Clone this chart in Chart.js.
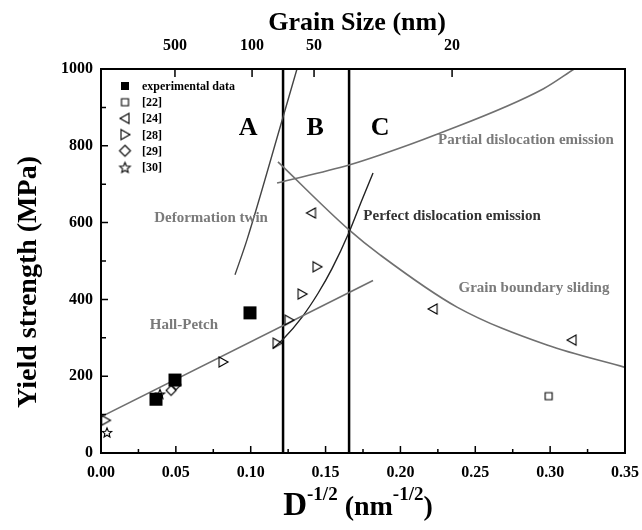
<!DOCTYPE html>
<html>
<head>
<meta charset="utf-8">
<script src="https://cdn.jsdelivr.net/npm/chart.js@4.4.1/dist/chart.umd.min.js"></script>
<style>
  html, body { margin: 0; padding: 0; background: #fff; }
  #wrap { width: 642px; height: 530px; }
</style>
</head>
<body>
<div id="wrap"><canvas id="myChart"></canvas></div>
<script>
// ---- data: x = D^-1/2 (nm^-1/2), y = yield strength (MPa)
let expX = [0.0367, 0.0494, 0.0995];
let expY = [140, 190, 365];
let ref22X = [0.299];
let ref22Y = [148];
let ref24X = [0.1406, 0.2218, 0.3146];
let ref24Y = [625, 375, 294];
let ref28X = [0.003, 0.0815, 0.1176, 0.1256, 0.1343, 0.1443];
let ref28Y = [85, 237, 286, 346, 414, 485];
let ref29X = [0.0468, 0.0501];
let ref29Y = [163, 178];
let ref30X = [0.004, 0.0394];
let ref30Y = [55, 155];

let hallPetchX = [0, 0.1817];
let hallPetchY = [94, 449];
let twinX = [0.0895, 0.0975, 0.1216, 0.1309];
let twinY = [464, 555, 875, 1000];
let perfectX = [0.1149, 0.1216, 0.1343, 0.145, 0.1543, 0.1657, 0.1743, 0.1817];
let perfectY = [272, 296, 354, 416, 480, 575, 659, 729];
let partialX = [0.1176, 0.1657, 0.1864, 0.2231, 0.2953, 0.316];
let partialY = [703, 750, 776, 828, 948, 1000];
let gbsX = [0.1182, 0.1657, 0.1864, 0.2378, 0.2979, 0.350];
let gbsY = [758, 581, 516, 380, 281, 223];

let boundaryX = [0.1216, 0.1657];

// top axis: grain size ticks
let topTickPos = [0.0494, 0.1009, 0.1423, 0.2345];
let topTickLabels = ['500', '100', '50', '20'];

function pts(xs, ys) {
    let r = [];
    for (let i = 0; i < xs.length; i++) r.push({ x: xs[i], y: ys[i] });
    return r;
}

// marker pictures
function marker(type, s, filled) {
    let c = document.createElement('canvas');
    c.width = s + 4; c.height = s + 4;
    let g = c.getContext('2d');
    let m = (s + 4) / 2, r = s / 2;
    g.lineWidth = 1.1;
    g.strokeStyle = '#000';
    g.fillStyle = '#000';
    g.beginPath();
    if (type == 'sq') {
        g.rect(m - r, m - r, s, s);
    } else if (type == 'left') {
        g.moveTo(m - r, m); g.lineTo(m + r * 0.8, m - r); g.lineTo(m + r * 0.8, m + r); g.closePath();
    } else if (type == 'right') {
        g.moveTo(m + r, m); g.lineTo(m - r * 0.8, m - r); g.lineTo(m - r * 0.8, m + r); g.closePath();
    } else if (type == 'dia') {
        g.moveTo(m, m - r); g.lineTo(m + r, m); g.lineTo(m, m + r); g.lineTo(m - r, m); g.closePath();
    } else if (type == 'star') {
        for (let k = 0; k < 10; k++) {
            let a = -Math.PI / 2 + k * Math.PI / 5;
            let rr = (k % 2 == 0) ? r : r * 0.45;
            let px = m + rr * Math.cos(a), py = m + 1 + rr * Math.sin(a);
            if (k == 0) g.moveTo(px, py); else g.lineTo(px, py);
        }
        g.closePath();
    }
    if (filled) g.fill(); else g.stroke();
    return c;
}

let mk = {
    exp: marker('sq', 13, true), r22: marker('sq', 7, false), r24: marker('left', 10, false),
    r28: marker('right', 10, false), r29: marker('dia', 10, false), r30: marker('star', 10, false)
};
let lg = {
    exp: marker('sq', 8, true), r22: marker('sq', 7, false), r24: marker('left', 10, false),
    r28: marker('right', 10, false), r29: marker('dia', 11, false), r30: marker('star', 11, false)
};
let legendItems = [
    ['experimental data', lg.exp], ['[22]', lg.r22], ['[24]', lg.r24],
    ['[28]', lg.r28], ['[29]', lg.r29], ['[30]', lg.r30]
];

let notes = [
    { text: 'A', x: 0.0982, y: 846, size: 26, color: '#000' },
    { text: 'B', x: 0.143, y: 846, size: 26, color: '#000' },
    { text: 'C', x: 0.1864, y: 846, size: 26, color: '#000' },
    { text: 'Deformation twin', x: 0.0735, y: 612, size: 15, color: '#7a7a7a' },
    { text: 'Hall-Petch', x: 0.0554, y: 333, size: 15, color: '#7a7a7a' },
    { text: 'Perfect dislocation emission', x: 0.2345, y: 617, size: 15, color: '#333' },
    { text: 'Partial dislocation emission', x: 0.2839, y: 815, size: 15, color: '#7a7a7a' },
    { text: 'Grain boundary sliding', x: 0.2892, y: 430, size: 15, color: '#7a7a7a' }
];

const SERIF = '"Liberation Serif", "Times New Roman", serif';

const decor = {
    id: 'decor',
    afterDraw(chart) {
        const ctx = chart.ctx;
        const a = chart.chartArea;
        const x = chart.scales.x, y = chart.scales.y, x2 = chart.scales.x2;
        ctx.save();
        ctx.strokeStyle = '#000';
        ctx.lineWidth = 1.5;
        ctx.beginPath();
        for (let i = 0; i <= 14; i++) {
            let px = x.getPixelForValue(i * 0.025);
            let len = (i % 2 == 0) ? 7 : 4;
            ctx.moveTo(px, a.bottom); ctx.lineTo(px, a.bottom - len);
        }
        for (let i = 0; i <= 10; i++) {
            let py = y.getPixelForValue(i * 100);
            let len = (i % 2 == 0) ? 7 : 5;
            ctx.moveTo(a.left, py); ctx.lineTo(a.left + len, py);
        }
        for (let i = 0; i < topTickPos.length; i++) {
            let px = x2.getPixelForValue(topTickPos[i]);
            ctx.moveTo(px, a.top); ctx.lineTo(px, a.top + 8);
        }
        ctx.stroke();
        ctx.lineWidth = 2;
        ctx.strokeRect(a.left, a.top, a.right - a.left, a.bottom - a.top);

        ctx.textAlign = 'center';
        ctx.textBaseline = 'middle';
        notes.forEach(function (n) {
            ctx.font = 'bold ' + n.size + 'px ' + SERIF;
            ctx.fillStyle = n.color;
            ctx.fillText(n.text, x.getPixelForValue(n.x), y.getPixelForValue(n.y));
        });

        // legend
        ctx.textAlign = 'left';
        ctx.fillStyle = '#000';
        ctx.font = 'bold 12px ' + SERIF;
        for (let i = 0; i < legendItems.length; i++) {
            let ly = 86 + i * 16.2;
            let img = legendItems[i][1];
            ctx.drawImage(img, 125 - img.width / 2, ly - img.height / 2);
            ctx.fillText(legendItems[i][0], 142, ly + 1);
        }

        // titles
        ctx.fillStyle = '#000';
        ctx.textAlign = 'center';
        ctx.font = 'bold 26px ' + SERIF;
        ctx.fillText('Grain Size (nm)', 357, 23);

        ctx.save();
        ctx.translate(29, 282);
        ctx.rotate(-Math.PI / 2);
        ctx.font = 'bold 28px ' + SERIF;
        ctx.fillText('Yield strength (MPa)', 0, 0);
        ctx.restore();

        let parts = [['D', 33, 0], ['-1/2', 19, -15], [' (nm', 28, 0], ['-1/2', 19, -15], [')', 28, 0]];
        ctx.textAlign = 'left';
        ctx.textBaseline = 'alphabetic';
        let total = 0;
        parts.forEach(function (p) { ctx.font = 'bold ' + p[1] + 'px ' + SERIF; total += ctx.measureText(p[0]).width; });
        let cx = 358 - total / 2;
        parts.forEach(function (p) {
            ctx.font = 'bold ' + p[1] + 'px ' + SERIF;
            ctx.fillText(p[0], cx, 515 + p[2]);
            cx += ctx.measureText(p[0]).width;
        });
        ctx.restore();
    }
};

function curve(xs, ys, color, width, smooth) {
    return {
        type: 'line', data: pts(xs, ys), showLine: true, borderColor: color, borderWidth: width,
        pointRadius: 0, cubicInterpolationMode: smooth ? 'monotone' : 'default', tension: 0, fill: false
    };
}
function scat(xs, ys, img) {
    return { type: 'scatter', data: pts(xs, ys), pointStyle: img, pointRadius: 6, showLine: false };
}

let datasets = [
    scat(expX, expY, mk.exp),
    scat(ref22X, ref22Y, mk.r22),
    scat(ref24X, ref24Y, mk.r24),
    scat(ref28X, ref28Y, mk.r28),
    scat(ref29X, ref29Y, mk.r29),
    scat(ref30X, ref30Y, mk.r30),
    curve(hallPetchX, hallPetchY, '#6f6f6f', 1.6, false),
    curve(twinX, twinY, '#444', 1.4, true),
    curve(perfectX, perfectY, '#222', 1.4, true),
    curve(partialX, partialY, '#707070', 1.6, true),
    curve(gbsX, gbsY, '#707070', 1.6, true),
    curve([boundaryX[0], boundaryX[0]], [0, 1000], '#000', 2.5, false),
    curve([boundaryX[1], boundaryX[1]], [0, 1000], '#000', 2.5, false)
];

let tickFont = { family: SERIF, size: 16, weight: 'bold' };

let config = {
    type: 'scatter',
    data: { datasets: datasets },
    options: {
        responsive: true,
        maintainAspectRatio: false,
        animation: false,
        layout: { padding: { left: 0, right: 17, top: 0, bottom: 0 } },
        plugins: { legend: { display: false }, tooltip: { enabled: false } },
        scales: {
            x: {
                type: 'linear', position: 'bottom', min: 0, max: 0.35,
                grid: { display: false, drawTicks: false }, border: { display: false },
                ticks: { stepSize: 0.05, padding: 10, color: '#000', font: tickFont, maxRotation: 0,
                    callback: function (v) { return v.toFixed(2); } },
                afterFit: function (s) { s.height = 77; s.paddingLeft = 0; s.paddingRight = 0; }
            },
            x2: {
                type: 'linear', position: 'top', min: 0, max: 0.35,
                grid: { display: false, drawTicks: false }, border: { display: false },
                ticks: { padding: 14, color: '#000', font: tickFont, maxRotation: 0,
                    callback: function (v, i) { return topTickLabels[i]; } },
                afterBuildTicks: function (s) { s.ticks = topTickPos.map(function (v) { return { value: v }; }); },
                afterFit: function (s) { s.height = 69; s.paddingLeft = 0; s.paddingRight = 0; }
            },
            y: {
                type: 'linear', min: 0, max: 1000,
                grid: { display: false, drawTicks: false }, border: { display: false },
                ticks: { stepSize: 200, padding: 8, color: '#000', font: tickFont,
                    callback: function (v) { return String(v); } },
                afterFit: function (s) { s.width = 101; s.paddingTop = 0; s.paddingBottom = 0; }
            }
        }
    },
    plugins: [decor]
};

let myChart = new Chart(document.getElementById('myChart'), config);
</script>
</body>
</html>
